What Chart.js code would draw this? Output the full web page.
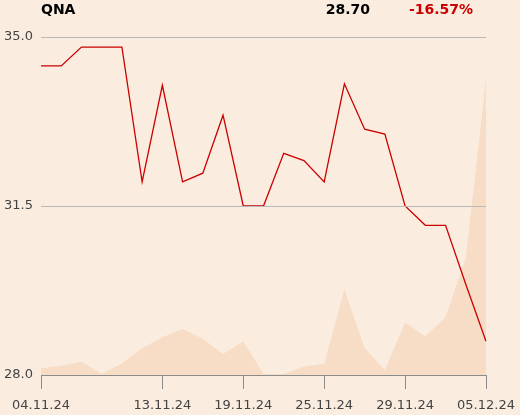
<!DOCTYPE html>
<html>
<head>
<meta charset="utf-8">
<script src="https://cdn.jsdelivr.net/npm/chart.js@4/dist/chart.umd.min.js"></script>
<style>
  html, body { margin: 0; padding: 0; background: #faede0; }
  #wrap { position: relative; width: 520px; height: 415px; }
  canvas { position: absolute; left: 0; top: 0; }
  .hdr { position: absolute; font-family: "DejaVu Sans", sans-serif; font-weight: bold; font-size: 14px; line-height: 16px; top: 1px; white-space: nowrap; }
</style>
</head>
<body>
<div id="wrap">
  <canvas id="c" width="520" height="415"></canvas>
  <div class="hdr" style="left:41px;color:#000;">QNA</div>
  <div class="hdr" style="right:150px;color:#000;">28.70</div>
  <div class="hdr" style="right:47px;color:#cc0000;">-16.57%</div>
</div>
<script>
const dates = ["04.11.24","05.11.24","06.11.24","07.11.24","08.11.24","12.11.24","13.11.24","14.11.24","15.11.24","18.11.24","19.11.24","20.11.24","21.11.24","22.11.24","25.11.24","26.11.24","27.11.24","28.11.24","29.11.24","02.12.24","03.12.24","04.12.24","05.12.24"];
const prices = [34.40,34.40,34.79,34.79,34.79,32.00,34.00,32.00,32.18,33.38,31.50,31.50,32.59,32.44,32.00,34.03,33.09,32.99,31.50,31.10,31.10,29.88,28.70];
const volumes = [20,27,39,3,35,79,112,136,107,62,100,3,3,25,33,254,79,15,155,115,171,346,876];
const shownTicks = ["04.11.24","13.11.24","19.11.24","25.11.24","29.11.24","05.12.24"];
const yTicks = [28.0,31.5,35.0];

const font = { family: "DejaVu Sans", size: 13 };
new Chart(document.getElementById('c'), {
  type: 'line',
  data: {
    labels: dates,
    datasets: [
      { data: prices, yAxisID: 'y', borderColor: '#cc0000', borderWidth: 1.3, pointRadius: 0, tension: 0, fill: false, order: 1 },
      { data: volumes, yAxisID: 'v', borderWidth: 0, borderColor: 'rgba(0,0,0,0)', backgroundColor: '#f7dcc6', pointRadius: 0, tension: 0, fill: 'origin', order: 2 }
    ]
  },
  options: {
    responsive: false,
    animation: false,
    events: [],
    layout: { padding: { top: 37, right: 34, left: 0, bottom: 0 } },
    plugins: { legend: { display: false }, tooltip: { enabled: false } },
    scales: {
      x: {
        type: 'category',
        offset: false,
        border: { display: true, color: '#8c8c8c', width: 1 },
        grid: {
          drawOnChartArea: false, drawTicks: true, tickLength: 14,
          color: (ctx) => (ctx.tick && shownTicks.includes(dates[ctx.index])) ? '#8c8c8c' : 'rgba(0,0,0,0)'
        },
        ticks: {
          autoSkip: false, maxRotation: 0, padding: 9, color: '#444', font: font,
          callback: (v, i) => shownTicks.includes(dates[i]) ? dates[i] : ''
        },
        afterFit: (s) => { s.height = 40; s.paddingLeft = 0; s.paddingRight = 0; }
      },
      y: {
        min: 28, max: 35,
        afterBuildTicks: (s) => { s.ticks = yTicks.map(v => ({ value: v })); },
        border: { display: false },
        grid: { z: 1, drawTicks: false, color: (ctx) => ctx.tick && ctx.tick.value === 28 ? 'rgba(0,0,0,0)' : '#b8b8b8', lineWidth: 1 },
        ticks: { padding: 8, color: '#444', font: font, callback: (v) => Number(v).toFixed(1) },
        afterFit: (s) => { s.width = 41; s.paddingTop = 0; s.paddingBottom = 0; }
      },
      v: { display: false, min: 0, max: 1000 }
    }
  }
});
</script>
</body>
</html>
